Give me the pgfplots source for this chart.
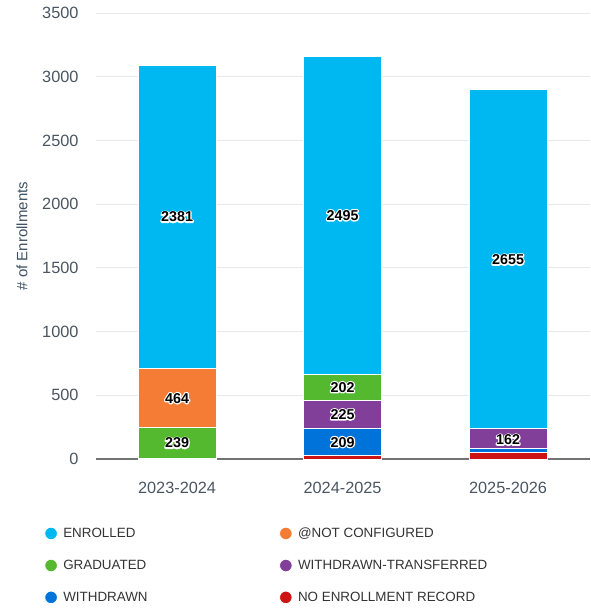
\documentclass[border=0pt]{standalone}
\usepackage{pgfplots}
\pgfplotsset{compat=1.18}
\usepackage{fontspec}
\setmainfont{Liberation Sans}
\newcommand\halo[1]{\special{x:gsave}\special{pdf:literal direct 1 Tr 2.6 w 1 1 1 RG 1 j 1 J}\rlap{#1}\special{x:grestore}#1}
\definecolor{cEnr}{HTML}{00B8F1}
\definecolor{cNC}{HTML}{F57C35}
\definecolor{cGrad}{HTML}{55B930}
\definecolor{cWT}{HTML}{813F99}
\definecolor{cWd}{HTML}{0073DA}
\definecolor{cNR}{HTML}{CC1414}
\definecolor{tickc}{HTML}{4A5561}
\definecolor{labc}{HTML}{3D5163}
\definecolor{legc}{HTML}{333333}
\definecolor{gridc}{HTML}{E8E8E8}
\pgfplotsset{base/.style={scale only axis, width=494pt, height=446pt,
  xmin=-0.49, xmax=2.495, ymin=0, ymax=3500}}
\begin{document}
\begin{tikzpicture}
\begin{axis}[base, name=ax,
  ybar stacked, bar width=78pt,
  axis line style={draw=none},
  major tick length=0pt,
  ytick={0,500,...,3500},
  ymajorgrids, grid style={gridc, line width=1pt},
  extra y ticks={0}, extra y tick labels={},
  extra y tick style={grid style={draw=black!55, line width=1.5pt}},
  xtick={0,1,2}, xticklabels={2023-2024,2024-2025,2025-2026},
  ticklabel style={font=\fontsize{16.3}{19}\selectfont, text=tickc},
  yticklabel style={xshift=-14pt},
  xticklabel style={yshift=-20pt},
  /pgf/number format/assume math mode=true,
  /pgf/number format/1000 sep={},
  ylabel={\# of Enrollments},
  ylabel style={at={(axis description cs:-0.15,0.5)}, anchor=center,
    font=\fontsize{15}{18}\selectfont, text=labc},
  reverse legend, legend columns=2,
  legend image code/.code={\fill[#1] (6pt,0pt) circle (6.3pt);},
  legend style={draw=none, fill=none, at={(axis description cs:-0.111,-0.145)},
    anchor=north west, font=\fontsize{13.4}{16}\selectfont, text=legc,
    row sep=17pt, legend cell align=left,
    /tikz/every odd column/.append style={column sep=3.5pt},
    /tikz/every even column/.append style={column sep=129.5pt}},
]
\addplot[fill=cNR, draw=white, line width=0.8pt] coordinates {(0,4) (1,28) (2,51)};
\addplot[fill=cWd, draw=white, line width=0.8pt] coordinates {(0,2) (1,209) (2,30)};
\addplot[fill=cWT, draw=white, line width=0.8pt] coordinates {(0,0) (1,225) (2,162)};
\addplot[fill=cGrad, draw=white, line width=0.8pt] coordinates {(0,239) (1,202) (2,0)};
\addplot[fill=cNC, draw=white, line width=0.8pt] coordinates {(0,464) (1,0) (2,0)};
\addplot[fill=cEnr, draw=white, line width=0.8pt] coordinates {(0,2381) (1,2495) (2,2655)};
\legend{NO ENROLLMENT RECORD, WITHDRAWN, WITHDRAWN-TRANSFERRED, GRADUATED, @NOT CONFIGURED, ENROLLED}
\end{axis}
\begin{axis}[base, hide axis, clip=false]
\addplot[only marks, mark=*, mark size=0pt, mark options={draw=none, fill=none},
  point meta=explicit symbolic,
  nodes near coords={\halo{\pgfplotspointmeta}},
  every node near coord/.append style={anchor=center, font=\fontsize{14.3}{16}\bfseries\selectfont, text=black}]
  coordinates {(0,125.5)[239] (0,477)[464] (0,1899.5)[2381]
    (1,132.5)[209] (1,349.5)[225] (1,563)[202] (1,1911.5)[2495]
    (2,151)[162] (2,1564)[2655]};
\end{axis}
\pgfresetboundingbox
\path (ax.south west) ++(-96pt,-152pt) rectangle ++(590pt,611pt);
\end{tikzpicture}
\end{document}
